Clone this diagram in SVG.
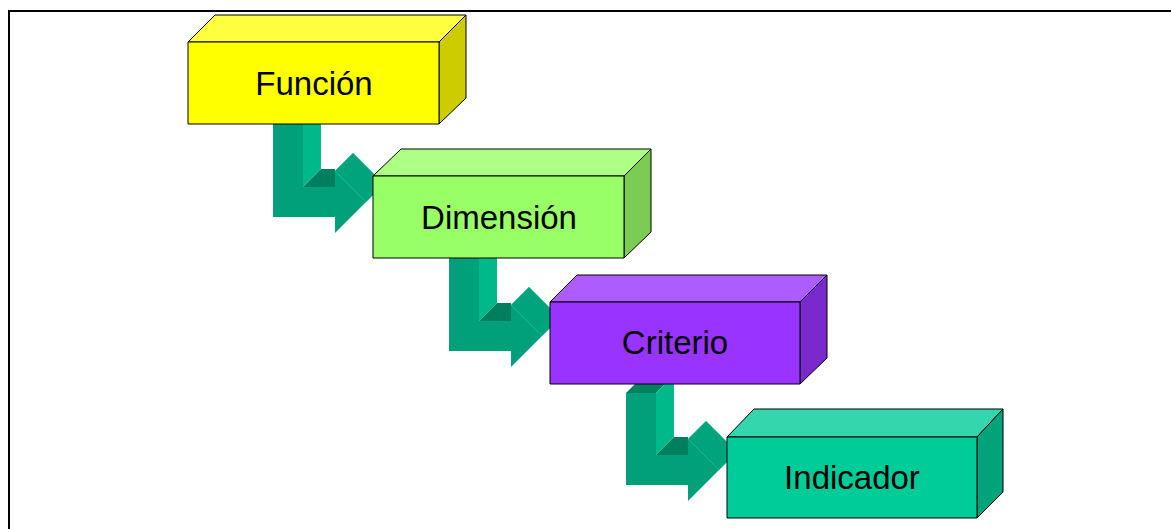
<svg xmlns="http://www.w3.org/2000/svg" width="1171" height="529" viewBox="0 0 1171 529">
<defs>
<style>
.frame{fill:none;stroke:#000;stroke-width:2}
.bx{stroke:#000;stroke-width:1;stroke-linejoin:round}
.lbl{font-family:"Liberation Sans",Arial,sans-serif;font-size:33px;fill:#000;text-anchor:middle}
.af{fill:#00A07A}
.as{fill:#00B98A}
.at{fill:#007F5E}
.ah{fill:#00A47C;stroke:#1FC79A;stroke-width:0.6}
</style>
<g id="arrowShape">
<polygon class="at" points="0,-50 30,-50 48,-68 18,-68"/>
<polygon class="as" points="30,-50 48,-68 48,0 30,18"/>
<polygon class="at" points="48,0 62,0 62,18 30,18"/>
<polygon class="ah" points="62,2 80,-16 111,15 93,33"/>
<polygon class="af" points="0,-50 30,-50 30,18 62,18 62,2 93,33 62,64 62,48 0,48"/>
</g>
<g id="arrowShape3">
<polygon class="at" points="0,-44 30,-44 48,-62 18,-62"/>
<polygon class="as" points="30,-44 48,-62 48,0 30,18"/>
<polygon class="at" points="48,0 62,0 62,18 30,18"/>
<polygon class="ah" points="62,2 80,-16 111,15 93,33"/>
<polygon class="af" points="0,-44 30,-44 30,18 62,18 62,2 93,33 62,64 62,48 0,48"/>
</g>
</defs>
<rect width="1171" height="529" fill="#fff"/>
<path class="frame" d="M9,529 V11 H1171"/>
<g id="connectors">
<use href="#arrowShape" x="273" y="169"/>
<use href="#arrowShape" x="449" y="303"/>
<use href="#arrowShape3" x="626" y="437"/>
</g>
<g id="funcion">
<polygon class="bx" fill="#FFFF40" points="188,42 215,15 466,15 439,42"/>
<polygon class="bx" fill="#CCCC00" points="439,42 466,15 466,98 439,124"/>
<rect class="bx" fill="#FFFF00" x="188" y="42" width="251" height="82"/>
<text class="lbl" x="314" y="95">Función</text>
</g>
<g id="dimension">
<polygon class="bx" fill="#ADFF85" points="373,176 401,149 651,149 624,176"/>
<polygon class="bx" fill="#7ACC52" points="624,176 651,149 651,232 624,258"/>
<rect class="bx" fill="#99FF66" x="373" y="176" width="251" height="82"/>
<text class="lbl" x="499" y="229">Dimensión</text>
</g>
<g id="criterio">
<polygon class="bx" fill="#AD5CFF" points="550,302 577,275 827,275 800,302"/>
<polygon class="bx" fill="#7A29CC" points="800,302 827,275 827,358 800,384"/>
<rect class="bx" fill="#9933FF" x="550" y="302" width="250" height="82"/>
<text class="lbl" x="675" y="354">Criterio</text>
</g>
<g id="indicador">
<polygon class="bx" fill="#33D6AD" points="727,437 754,409 1003,409 977,437"/>
<polygon class="bx" fill="#00A37A" points="977,437 1003,409 1003,492 977,518"/>
<rect class="bx" fill="#00CC99" x="727" y="437" width="250" height="81"/>
<text class="lbl" x="852" y="489">Indicador</text>
</g>
</svg>
